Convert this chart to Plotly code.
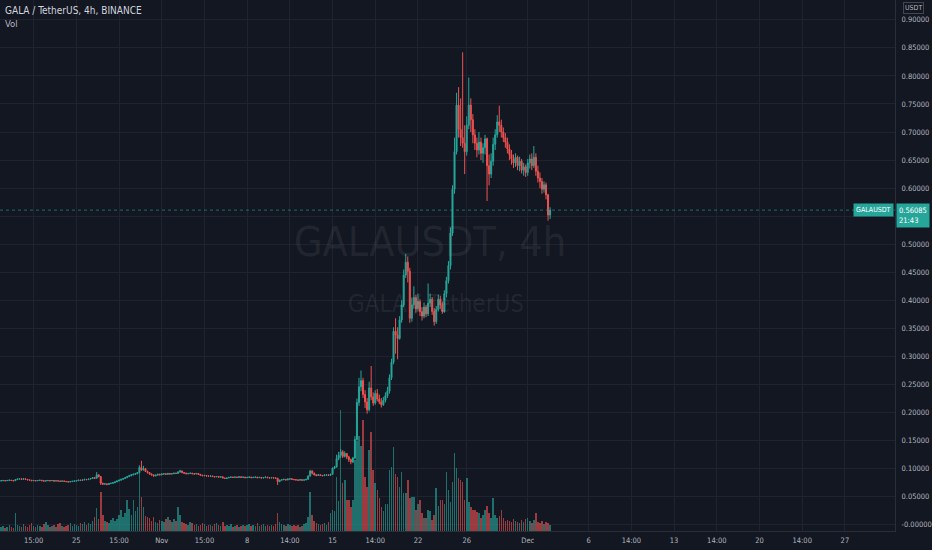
import pandas as pd
import plotly.graph_objects as go

# ---------------- data (prices in 1/1000 USDT, 4h candles from 2021-10-18 20:00) ----------------
first_open = 78.0
close_k = [
    78.5,
    79, 78.5, 79, 79.5, 79, 78.5,          # Oct 19
    80.5, 81.5, 82, 81, 82, 81,            # Oct 20
    80, 79.5, 78.5, 79, 78.5, 79,          # Oct 21
    79.5, 78.5, 78, 78.5, 79, 78.5,        # Oct 22
    79, 78, 78.5, 78, 77.5, 78,            # Oct 23
    77.5, 77, 76.5, 77, 77.5, 78,          # Oct 24
    78.5, 79.5, 79, 80, 81, 80.5,          # Oct 25
    81.5, 82.5, 84, 83, 89, 86,            # Oct 26
    74, 72.5, 73, 72, 73.5, 74,            # Oct 27
    75, 76.5, 78, 79.5, 81, 82.5,          # Oct 28
    84, 86, 87.5, 89, 90, 91,              # Oct 29
    93, 102, 98, 100, 95, 93,              # Oct 30
    90.5, 89, 87, 88.5, 90, 89,            # Oct 31
    90.5, 91, 90, 91.5, 90.5, 91,          # Nov 1
    92, 91.5, 94, 96, 93, 92,              # Nov 2
    91, 91.5, 92, 91, 90.5, 91.5,          # Nov 3
    90, 88.5, 87.5, 88, 87, 86.5,          # Nov 4
    87, 86, 85.5, 86, 85, 85.5,            # Nov 5
    83.5, 82.5, 83.5, 84.5, 85, 84.5,      # Nov 6
    85, 84.5, 85.5, 84.5, 85, 84,          # Nov 7
    84.5, 85, 84, 84.5, 85, 84,            # Nov 8
    84.5, 83.5, 84, 85, 84, 83.5,          # Nov 9
    84, 83.5, 83, 77, 79.5, 80.5,          # Nov 10
    81, 80, 81.5, 82, 81, 80.5,            # Nov 11
    80, 79.5, 80.5, 79.5, 80, 81,          # Nov 12
    87, 96, 92, 89, 88, 89,                # Nov 13
    88, 87.5, 88.5, 89, 88, 90,            # Nov 14
    101, 103, 118, 124, 130, 122,          # Nov 15
    127, 121, 116, 112, 119, 152,          # Nov 16
    218, 246, 257, 232, 219, 205,          # Nov 17
    244, 228, 217, 234, 224, 219,          # Nov 18
    214, 222, 230, 238, 262, 290,          # Nov 19
    345, 338, 332, 365, 392, 445,          # Nov 20
    468, 452, 368, 392, 405, 385,          # Nov 21
    398, 380, 372, 388, 376, 395,          # Nov 22
    402, 380, 362, 384, 402, 392,          # Nov 23
    380, 412, 435, 462, 520, 598,          # Nov 24
    665, 748, 705, 690, 680, 665,          # Nov 25
    712, 748, 722, 695, 680, 668,          # Nov 26
    682, 662, 672, 688, 640, 625,          # Nov 27
    648, 678, 695, 718, 712, 700,          # Nov 28
    690, 682, 670, 660, 652, 645,          # Nov 29
    655, 640, 648, 632, 638, 628,          # Nov 30
    645, 652, 640, 655, 630, 618,          # Dec 1
    612, 598, 606, 588, 552, 560.85,       # Dec 2
]
high_k = [
    79.5,
    80, 79.5, 80, 80.5, 80, 79.5,
    81.5, 82.5, 83, 82.5, 83, 82.5,
    81.5, 80.5, 80, 80, 79.5, 80,
    80, 80, 79, 79.5, 80, 79.5,
    79.5, 79.5, 79, 79, 78.5, 79,
    78.5, 78, 77.5, 78, 78.5, 79,
    79, 80.5, 80.5, 81, 82, 81.5,
    82, 83.5, 85, 85, 94, 90,
    86.5, 75, 74, 73.5, 74.5, 75,
    76, 77.5, 79, 80.5, 82, 83.5,
    85, 87, 88.5, 90.5, 91.5, 92,
    94, 106, 114, 105, 101, 96.5,
    94, 91.5, 89.5, 89.5, 91, 91,
    91.5, 92, 91.5, 92.5, 92, 92,
    93, 93, 95.5, 98, 96.5, 94,
    93, 92.5, 93, 92.5, 92, 92.5,
    92, 90.5, 89, 89, 88.5, 88,
    88, 87.5, 86.5, 87, 86.5, 86.5,
    86, 84, 84, 85, 86, 85.5,
    86, 85.5, 86.5, 86, 86, 85.5,
    85.5, 86, 85.5, 85.5, 86, 85.5,
    85.5, 85, 85, 86, 85.5, 84.5,
    85, 84.5, 84.5, 83.5, 80.5, 81.5,
    82, 81.5, 82.5, 83, 82.5, 81.5,
    81, 80.5, 81.5, 81, 81, 82,
    88, 98, 97, 93, 90, 90.5,
    90, 89, 90, 90, 89.5, 91,
    102, 105, 125, 130, 135, 133,
    131, 128, 123, 118, 121, 158,
    225, 262, 275, 262, 240, 226,
    255, 283, 236, 240, 242, 232,
    226, 228, 236, 246, 268, 296,
    352, 368, 352, 372, 400, 455,
    483, 478, 458, 405, 425, 410,
    412, 402, 388, 396, 392, 430,
    412, 406, 386, 390, 410, 408,
    398, 418, 442, 470, 530, 605,
    690, 770, 780, 760, 842, 712,
    728, 797, 760, 732, 705, 690,
    700, 690, 680, 695, 690, 660,
    662, 690, 705, 730, 747, 722,
    708, 698, 690, 678, 668, 660,
    662, 658, 656, 652, 645, 642,
    652, 660, 662, 675, 662, 640,
    628, 618, 612, 610, 590, 566,
]
low_k = [
    78,
    78, 77.5, 78, 78.5, 78, 77.5,
    78, 80, 81, 80.5, 80.5, 80,
    79.5, 79, 78, 78, 77.5, 78,
    78.5, 78, 77, 77.5, 78, 77.5,
    78, 77, 77.5, 77, 76.5, 77,
    76.5, 76, 75.5, 76, 76.5, 77,
    77.5, 78, 78.5, 78.5, 79.5, 79.5,
    80, 81, 82, 82, 82.5, 84.5,
    71, 71, 71.5, 70.5, 71.5, 72.5,
    73.5, 74.5, 76, 77.5, 79, 80.5,
    82, 83.5, 85, 86.5, 88, 89,
    90, 92, 96, 96.5, 94, 91.5,
    89, 87.5, 86, 86.5, 88, 88,
    88.5, 89.5, 89, 89.5, 89.5, 90,
    90.5, 90.5, 91, 93, 92, 91,
    90, 90, 90.5, 90, 89.5, 90,
    89, 87.5, 86.5, 86.5, 86, 85.5,
    85.5, 85, 84.5, 85, 84, 84.5,
    83, 82, 82, 83, 84, 83.5,
    84, 83.5, 84, 83.5, 84, 83,
    83.5, 84, 83, 83.5, 84, 83,
    83.5, 82.5, 83, 83.5, 83, 82.5,
    83, 82.5, 82, 71, 76, 79,
    79.5, 79, 79.5, 80.5, 80, 79.5,
    79, 78.5, 79, 78.5, 79, 79.5,
    80.5, 86, 90, 88, 86.5, 87.5,
    87, 86.5, 87, 87.5, 87, 87.5,
    89, 99, 102, 115, 120, 119,
    120, 117, 112, 108, 110, 117,
    150, 212, 238, 226, 208, 198,
    202, 222, 212, 214, 220, 215,
    209, 212, 218, 226, 234, 258,
    286, 305, 295, 330, 360, 388,
    440, 432, 360, 362, 385, 378,
    380, 372, 364, 368, 370, 372,
    388, 374, 355, 358, 380, 385,
    376, 378, 405, 430, 455, 515,
    590, 660, 690, 675, 672, 625,
    658, 705, 700, 680, 668, 655,
    660, 650, 645, 660, 577, 605,
    618, 640, 668, 690, 700, 690,
    682, 672, 662, 650, 642, 636,
    638, 632, 630, 626, 622, 620,
    622, 635, 632, 636, 622, 610,
    600, 590, 592, 580, 542, 545,
]
volume = [
    4,
    5, 3, 4, 6, 4, 3,
    18, 6, 5, 4, 7, 5,
    4, 6, 8, 5, 4, 6,
    5, 4, 7, 9, 6, 4,
    5, 6, 4, 7, 8, 5,
    4, 5, 6, 8, 5, 7,
    6, 5, 8, 7, 9, 6,
    8, 7, 10, 14, 23, 12,
    39, 16, 10, 9, 8, 11,
    13, 10, 12, 16, 21, 14,
    18, 31, 22, 16, 31, 20,
    24, 60, 34, 24, 15, 14,
    13, 10, 14, 9, 8, 11,
    10, 9, 12, 14, 11, 9,
    12, 10, 24, 16, 9, 8,
    7, 6, 9, 8, 6, 7,
    5, 6, 8, 7, 5, 6,
    6, 5, 7, 8, 6, 5,
    9, 5, 6, 5, 7, 4,
    5, 6, 4, 5, 6, 5,
    6, 7, 5, 6, 5, 8,
    5, 6, 7, 5, 6, 5,
    6, 5, 7, 18, 9, 7,
    6, 5, 7, 6, 5, 6,
    5, 6, 4, 5, 7, 8,
    14, 39, 16, 10, 8, 7,
    6, 7, 8, 6, 9, 18,
    21, 20, 54, 30, 121, 48,
    51, 31, 31, 24, 31, 71,
    90, 95, 85, 111, 54, 44,
    81, 99, 61, 48, 41, 33,
    24, 20, 27, 27, 61, 64,
    84, 57, 54, 44, 59, 38,
    38, 51, 33, 34, 34, 21,
    27, 31, 18, 13, 13, 21,
    20, 11, 16, 43, 25, 31,
    31, 27, 59, 41, 29, 49,
    78, 63, 53, 51, 49, 31,
    53, 29, 24, 21, 21, 19,
    18, 13, 16, 21, 25, 18,
    13, 33, 16, 13, 15, 21,
    13, 10, 11, 10, 9, 12,
    10, 9, 8, 11, 9, 12,
    13, 10, 8, 11, 18, 9,
    8, 10, 7, 9, 8, 6,
]

x_tick_dates = ["2021-10-21 12:00", "2021-10-25", "2021-10-28 12:00", "2021-11-01",
                "2021-11-04 12:00", "2021-11-08", "2021-11-11 12:00", "2021-11-15",
                "2021-11-18 12:00", "2021-11-22", "2021-11-26", "2021-12-01",
                "2021-12-06", "2021-12-09 12:00", "2021-12-13", "2021-12-16 12:00",
                "2021-12-20", "2021-12-23 12:00", "2021-12-27"]
x_tick_text = ["15:00", "25", "15:00", "Nov", "15:00", "8", "14:00", "15", "14:00",
               "22", "26", "Dec", "6", "14:00", "13", "14:00", "20", "14:00", "27"]
price_ticks = [i * 0.05 for i in range(19)]
price_tick_text = ["-0.00000"] + [f"{v:.5f}" for v in price_ticks[1:]]
price_tick_text[11] = ""  # hidden behind last-price label
last_price = 0.56085

# ---------------- build ----------------
n = min(len(close_k), len(high_k), len(low_k), len(volume))
times = pd.date_range("2021-10-18 20:00", periods=n, freq="4h")
close = [c / 1000 for c in close_k[:n]]
open_ = [first_open / 1000] + close[:-1]
high = [max(h / 1000, o, c) for h, o, c in zip(high_k[:n], open_, close)]
low = [min(l / 1000, o, c) for l, o, c in zip(low_k[:n], open_, close)]

UP, DOWN = "#26a69a", "#ef5350"
BG = "#131722"
GRID = "#1f2330"
TXT = "#b2b5be"
FONT = "DejaVu Sans Condensed, Roboto Condensed, Roboto, sans-serif"

vol_colors = ["rgba(38,166,154,0.62)" if c >= o else "rgba(239,83,80,0.62)"
              for o, c in zip(open_, close)]

fig = go.Figure()
fig.add_trace(go.Bar(x=times, y=volume[:n], marker=dict(color=vol_colors, line=dict(width=0)),
                     width=4 * 3600 * 1000 * 0.75, yaxis="y", hoverinfo="skip"))
fig.add_trace(go.Candlestick(
    x=times, open=open_, high=high, low=low, close=close, yaxis="y2",
    increasing=dict(line=dict(color=UP, width=1), fillcolor=UP),
    decreasing=dict(line=dict(color=DOWN, width=1), fillcolor=DOWN),
    whiskerwidth=0))

PW, PH = 898, 531


def px_x(p):
    return p / PW


def px_y(p):
    return 1 - p / PH


fig.update_layout(
    width=932, height=550, margin=dict(l=0, r=34, t=0, b=19),
    paper_bgcolor=BG, plot_bgcolor=BG, showlegend=False,
    font=dict(family=FONT, color=TXT, size=8),
    xaxis=dict(type="date", range=["2021-10-18 17:46", "2021-12-31 02:33"],
               tickvals=x_tick_dates, ticktext=x_tick_text, showgrid=True, gridcolor=GRID,
               gridwidth=1, showline=True, linecolor="#2a2e39", zeroline=False, ticks="",
               tickfont=dict(size=7.5, color=TXT), rangeslider=dict(visible=False),
               ticklabelstandoff=2),
    yaxis=dict(range=[0, PH], visible=False, showgrid=False, zeroline=False),
    yaxis2=dict(overlaying="y", side="right", range=[-0.01105, 0.9353],
                tickvals=price_ticks, ticktext=price_tick_text, showgrid=True, gridcolor=GRID,
                showline=True, linecolor="#2a2e39", zeroline=False, ticks="",
                tickfont=dict(size=7.5, color=TXT), ticklabelstandoff=4),
    bargap=0,
    shapes=[dict(type="line", xref="paper", x0=0, x1=1, yref="y2", y0=last_price, y1=last_price,
                 line=dict(color=UP, width=1, dash="dot"), opacity=0.6)],
    annotations=[
        dict(text="GALAUSDT, 4h", xref="paper", yref="paper", x=px_x(431), y=px_y(242),
             showarrow=False, font=dict(size=41, color="rgba(255,255,255,0.075)", family=FONT)),
        dict(text="GALA / TetherUS", xref="paper", yref="paper", x=px_x(437), y=px_y(304),
             showarrow=False, font=dict(size=24, color="rgba(255,255,255,0.075)", family=FONT)),
        dict(text="GALA / TetherUS, 4h, BINANCE", xref="paper", yref="paper", x=px_x(3),
             y=px_y(11), xanchor="left", yanchor="middle", showarrow=False,
             font=dict(size=10, color="#d1d4dc")),
        dict(text="Vol", xref="paper", yref="paper", x=px_x(3), y=px_y(23), xanchor="left",
             yanchor="middle", showarrow=False, font=dict(size=9.5, color=TXT)),
        dict(text="USDT", xref="paper", yref="paper", x=px_x(917), y=px_y(8), xanchor="center",
             yanchor="middle", showarrow=False, font=dict(size=7, color=TXT),
             bordercolor="#434651", borderwidth=1, borderpad=1),
        dict(text="GALAUSDT", xref="paper", yref="y2", x=px_x(897), y=last_price,
             xanchor="right", yanchor="middle", showarrow=False, bgcolor=UP,
             font=dict(size=7, color="#ffffff"), borderpad=2),
        dict(text="0.56085<br>21:43", xref="paper", yref="y2", x=px_x(899), y=last_price,
             xanchor="left", yanchor="top", yshift=7, showarrow=False, bgcolor=UP, align="left",
             font=dict(size=7.5, color="#ffffff"), borderpad=2),
    ],
)

fig.write_html("out.html", config={"displayModeBar": False},
               post_script="document.body.style.margin='0';document.body.style.overflow='hidden';")
